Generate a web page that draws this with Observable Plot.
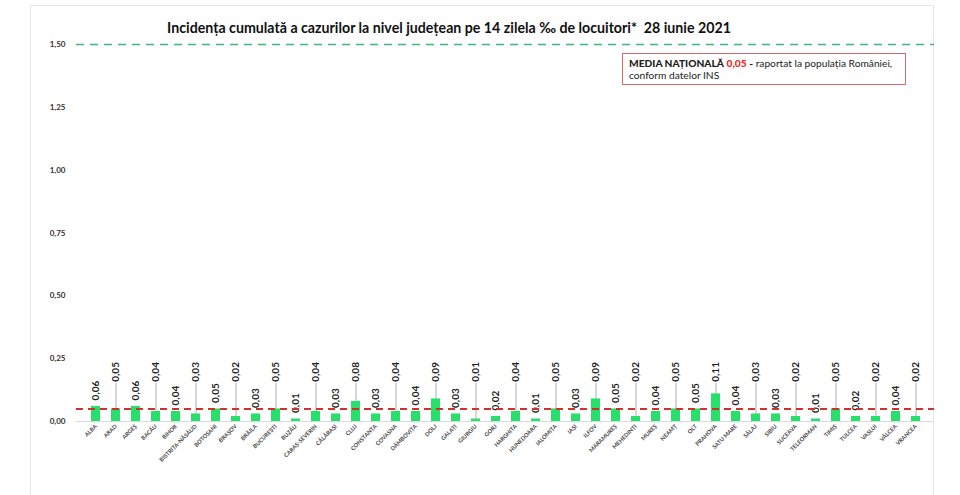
<!DOCTYPE html>
<html>
<head>
<meta charset="utf-8">
<script src="https://cdn.jsdelivr.net/npm/d3@7"></script>
<script src="https://cdn.jsdelivr.net/npm/@observablehq/plot@0.6"></script>
<style>
  html, body { margin: 0; padding: 0; background: #fff; }
  #wrap { position: relative; width: 960px; height: 495px; overflow: hidden; font-family: Lato, "Open Sans", sans-serif; }
  #frame { position: absolute; left: 30px; top: 5px; width: 904px; height: 520px; border: 1px solid #e6e6e6; box-sizing: border-box; }
  #title { position: absolute; left: 0; top: 19px; width: 898px; text-align: center; font-weight: 700; font-size: 14.2px; color: #111; }
  #legend { position: absolute; left: 622px; top: 53px; width: 284px; height: 32px; box-sizing: border-box; border: 1px solid #d46b6b; padding: 3px 6px; font-size: 10.2px; line-height: 12px; color: #222; }
  #legend b { font-weight: 900; }
  #legend .red { color: #e52b2b; }
  #chart { position: absolute; left: 0; top: 0; }
</style>
</head>
<body>
<div id="wrap">
  <div id="frame"></div>
  <div id="chart"></div>
  <div id="title">Incidența cumulată a cazurilor la nivel județean pe 14 zilela ‰ de locuitori*&nbsp; 28 iunie 2021</div>
  <div id="legend"><b>MEDIA NAȚIONALĂ</b> <b class="red">0,05</b> <b>-</b> raportat la populația României,<br>conform datelor INS</div>
</div>
<script>
const judete = ["ALBA","ARAD","ARGEȘ","BACĂU","BIHOR","BISTRIȚA-NĂSĂUD","BOTOȘANI","BRAȘOV","BRĂILA","BUCUREȘTI","BUZĂU","CARAȘ-SEVERIN","CĂLĂRAȘI","CLUJ","CONSTANȚA","COVASNA","DÂMBOVIȚA","DOLJ","GALAȚI","GIURGIU","GORJ","HARGHITA","HUNEDOARA","IALOMIȚA","IAȘI","ILFOV","MARAMUREȘ","MEHEDINȚI","MUREȘ","NEAMȚ","OLT","PRAHOVA","SATU MARE","SĂLAJ","SIBIU","SUCEAVA","TELEORMAN","TIMIȘ","TULCEA","VASLUI","VÂLCEA","VRANCEA"];
const incidenta = [0.06,0.05,0.06,0.04,0.04,0.03,0.05,0.02,0.03,0.05,0.01,0.04,0.03,0.08,0.03,0.04,0.04,0.09,0.03,0.01,0.02,0.04,0.01,0.05,0.03,0.09,0.05,0.02,0.04,0.05,0.05,0.11,0.04,0.03,0.03,0.02,0.01,0.05,0.02,0.02,0.04,0.02];
const mediaNationala = 0.05;
const pragMaxim = 1.5;
const yTicks = [0, 0.25, 0.5, 0.75, 1.0, 1.25, 1.5];

const fmt = v => d3.format(".2f")(v).replace(".", ",");
const data = judete.map((j, i) => ({judet: j, v: incidenta[i], raised: i % 2 === 1}));
const labelY = 0.15;

const chart = Plot.plot({
  width: 960,
  height: 495,
  marginLeft: 76,
  marginRight: 26,
  marginTop: 44,
  marginBottom: 74,
  style: {fontFamily: "Lato, 'Open Sans', sans-serif", background: "transparent", overflow: "visible"},
  x: {domain: judete, padding: 0.55, label: null},
  y: {domain: [0, 1.5], label: null},
  marks: [
    Plot.ruleY([0], {stroke: "#d9d9d9", strokeWidth: 1}),
    Plot.axisY({ticks: yTicks, tickFormat: fmt, tickSize: 0, tickPadding: 11, fontSize: 8, fontWeight: 700, fill: "#333", label: null}),
    Plot.axisX({tickRotate: -45, tickSize: 0, tickPadding: 4, fontSize: 5.7, fontWeight: 700, fill: "#444", label: null}),
    Plot.barY(data, {x: "judet", y: "v", fill: "#27e06c"}),
    Plot.ruleX(data.filter(d => d.raised), {x: "judet", y1: "v", y2: labelY, stroke: "#9a9a9a", strokeWidth: 0.8}),
    Plot.text(data.filter(d => d.raised), {x: "judet", y: () => labelY, text: d => fmt(d.v), rotate: -90, textAnchor: "start", dy: -2, fontSize: 10, fontWeight: 700, fill: "#222"}),
    Plot.text(data.filter(d => !d.raised), {x: "judet", y: "v", text: d => fmt(d.v), rotate: -90, textAnchor: "start", dy: -6, fontSize: 10, fontWeight: 700, fill: "#222"}),
    Plot.ruleY([mediaNationala], {stroke: "#d42f2f", strokeWidth: 2, strokeDasharray: "7,5"}),
    Plot.ruleY([pragMaxim], {stroke: "#3db87a", strokeWidth: 1.5, strokeDasharray: "8,6"})
  ]
});
document.getElementById("chart").appendChild(chart);
</script>
</body>
</html>
